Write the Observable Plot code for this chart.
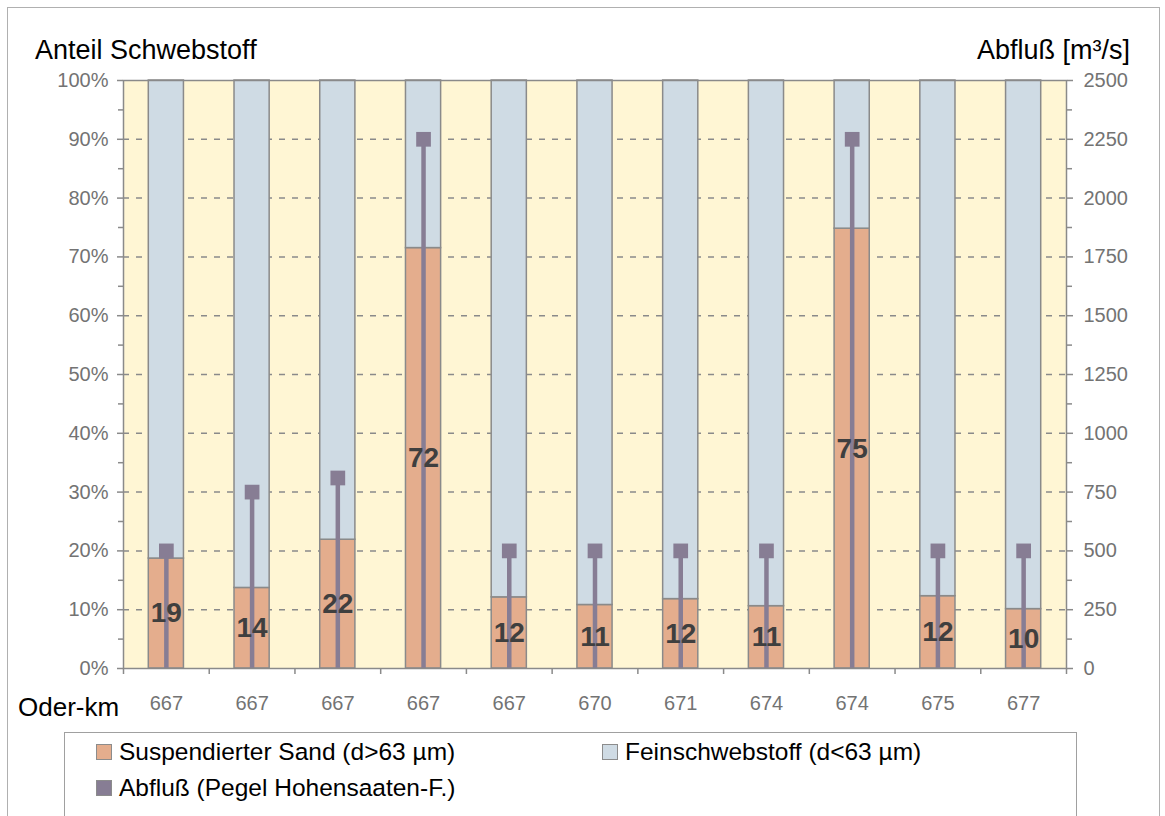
<!DOCTYPE html>
<html>
<head>
<meta charset="utf-8">
<script src="https://cdn.jsdelivr.net/npm/d3@7"></script>
<script src="https://cdn.jsdelivr.net/npm/@observablehq/plot@0.6"></script>
<style>
  html, body { margin: 0; padding: 0; background: #fff; }
  body { width: 1165px; height: 816px; overflow: hidden; font-family: "Liberation Sans", Arial, sans-serif; }
  #wrap { position: relative; width: 1165px; height: 816px; }
  #border { position: absolute; left: 7px; top: 7px; width: 1153px; height: 820px; border: 1.5px solid #b0b0b0; box-sizing: border-box; }
  #chart { position: absolute; left: 0; top: 0; }
  .t { position: absolute; color: #000; white-space: nowrap; line-height: normal; }
  #legend { position: absolute; left: 64px; top: 732px; width: 1013px; height: 100px; border: 1.5px solid #a0a0a0; box-sizing: border-box; }
  .li { position: absolute; font-size: 24.5px; color: #000; white-space: nowrap; line-height: normal; }
  .sw { display: inline-block; width: 14px; height: 14px; border: 1px solid #8c8c8c; vertical-align: baseline; margin-right: 7px; }
</style>
</head>
<body>
<div id="wrap">
  <div id="border"></div>
  <div id="chart"></div>
  <div class="t" style="left:35px; top:35px; font-size:27px;">Anteil Schwebstoff</div>
  <div class="t" style="right:35px; top:35px; font-size:27px;">Abfluß [m³/s]</div>
  <div class="t" style="left:18px; top:692px; font-size:26px;">Oder-km</div>
  <div id="legend"></div>
</div>
<script>
// ---- data ----
const oderKm = ["667", "667", "667", "667", "667", "670", "671", "674", "674", "675", "677"];
const sandPct = [18.7, 13.7, 21.9, 71.5, 12.1, 10.8, 11.8, 10.6, 74.8, 12.3, 10.1];
const sandLabels = [19, 14, 22, 72, 12, 11, 12, 11, 75, 12, 10];
const discharge = [500, 750, 810, 2250, 500, 500, 500, 500, 2250, 500, 500];
const pctTicks = [0, 10, 20, 30, 40, 50, 60, 70, 80, 90, 100];
const dischargeTicks = [0, 250, 500, 750, 1000, 1250, 1500, 1750, 2000, 2250, 2500];
const legendLabels = ["Suspendierter Sand (d>63 µm)", "Feinschwebstoff (d<63 µm)", "Abfluß (Pegel Hohensaaten-F.)"];

// ---- styles ----
const cSand = "#e4ad8d", cFine = "#cfdbe4", cFlow = "#877d94", cCream = "#fff6d4";
const cEdge = "#8a8a8a", cTickText = "#737373";
const qMax = 2500;
const scaleQ = 100 / qMax;

const rows = oderKm.map((k, i) => ({
  i, km: k, sand: sandPct[i], label: sandLabels[i], q: discharge[i] * scaleQ
}));
const half = 0.205;

const minorTicks = pctTicks.slice(0, -1).map(t => t + 5);
const bounds = d3.range(oderKm.length + 1).map(j => j - 0.5);
const qLabel = new Map(pctTicks.map((p, k) => [p, String(dischargeTicks[k])]));

const chart = Plot.plot({
  width: 1165,
  height: 720,
  marginLeft: 123,
  marginRight: 99,
  marginTop: 80,
  marginBottom: 52,
  style: { fontFamily: "'Liberation Sans', Arial, sans-serif", background: "transparent" },
  x: { type: "linear", domain: [-0.5, oderKm.length - 0.5], axis: null, label: null },
  y: { domain: [0, 100], axis: null, label: null },
  marks: [
    Plot.frame({ fill: cCream, stroke: null }),
    Plot.ruleY(pctTicks.slice(1, -1), { stroke: "#8a8a8a", strokeWidth: 1.5, strokeDasharray: "6,7" }),
    Plot.rect(rows, { x1: d => d.i - half, x2: d => d.i + half, y1: 0, y2: "sand", fill: cSand, stroke: cEdge, strokeWidth: 1.5 }),
    Plot.rect(rows, { x1: d => d.i - half, x2: d => d.i + half, y1: "sand", y2: 100, fill: cFine, stroke: cEdge, strokeWidth: 1.5 }),
    Plot.ruleX(rows, { x: "i", y1: 0, y2: "q", stroke: cFlow, strokeWidth: 4.5 }),
    Plot.dot(rows, { x: "i", y: "q", symbol: "square", r: 8.3, fill: cFlow, stroke: null }),
    Plot.text(rows, { x: "i", y: d => d.sand / 2, text: d => String(d.label), fontSize: 28, fontWeight: "bold", fill: "#3f3f3f" }),
    Plot.frame({ stroke: cEdge, strokeWidth: 1.5 }),
    Plot.axisY(pctTicks, { anchor: "left", label: null, tickSize: 6, tickPadding: 9, tickFormat: d => d + "%", fontSize: 20, stroke: cEdge, fill: cTickText, strokeWidth: 1.5 }),
    Plot.axisY(minorTicks, { anchor: "left", label: null, tickSize: 5, tickFormat: () => "", stroke: cEdge, strokeWidth: 1.5 }),
    Plot.axisY(pctTicks, { anchor: "right", label: null, tickSize: 6, tickPadding: 11, tickFormat: d => qLabel.get(d), fontSize: 20, stroke: cEdge, fill: cTickText, strokeWidth: 1.5 }),
    Plot.axisY(minorTicks, { anchor: "right", label: null, tickSize: 5, tickFormat: () => "", stroke: cEdge, strokeWidth: 1.5 }),
    Plot.axisX(bounds, { anchor: "bottom", label: null, tickSize: 6, tickFormat: () => "", stroke: cEdge, strokeWidth: 1.5 }),
    Plot.axisX(d3.range(oderKm.length), { anchor: "bottom", label: null, tickSize: 0, tickPadding: 27, tickFormat: i => oderKm[i], fontSize: 20, fill: cTickText })
  ]
});
document.getElementById("chart").appendChild(chart);

// ---- legend ----
const legend = document.getElementById("legend");
const items = [
  { label: legendLabels[0], color: cSand, left: 31, top: 5 },
  { label: legendLabels[1], color: cFine, left: 537, top: 5 },
  { label: legendLabels[2], color: cFlow, left: 31, top: 41 }
];
for (const it of items) {
  const el = document.createElement("div");
  el.className = "li";
  el.style.left = it.left + "px";
  el.style.top = it.top + "px";
  const sw = document.createElement("span");
  sw.className = "sw";
  sw.style.background = it.color;
  el.appendChild(sw);
  el.appendChild(document.createTextNode(it.label));
  legend.appendChild(el);
}
</script>
</body>
</html>
